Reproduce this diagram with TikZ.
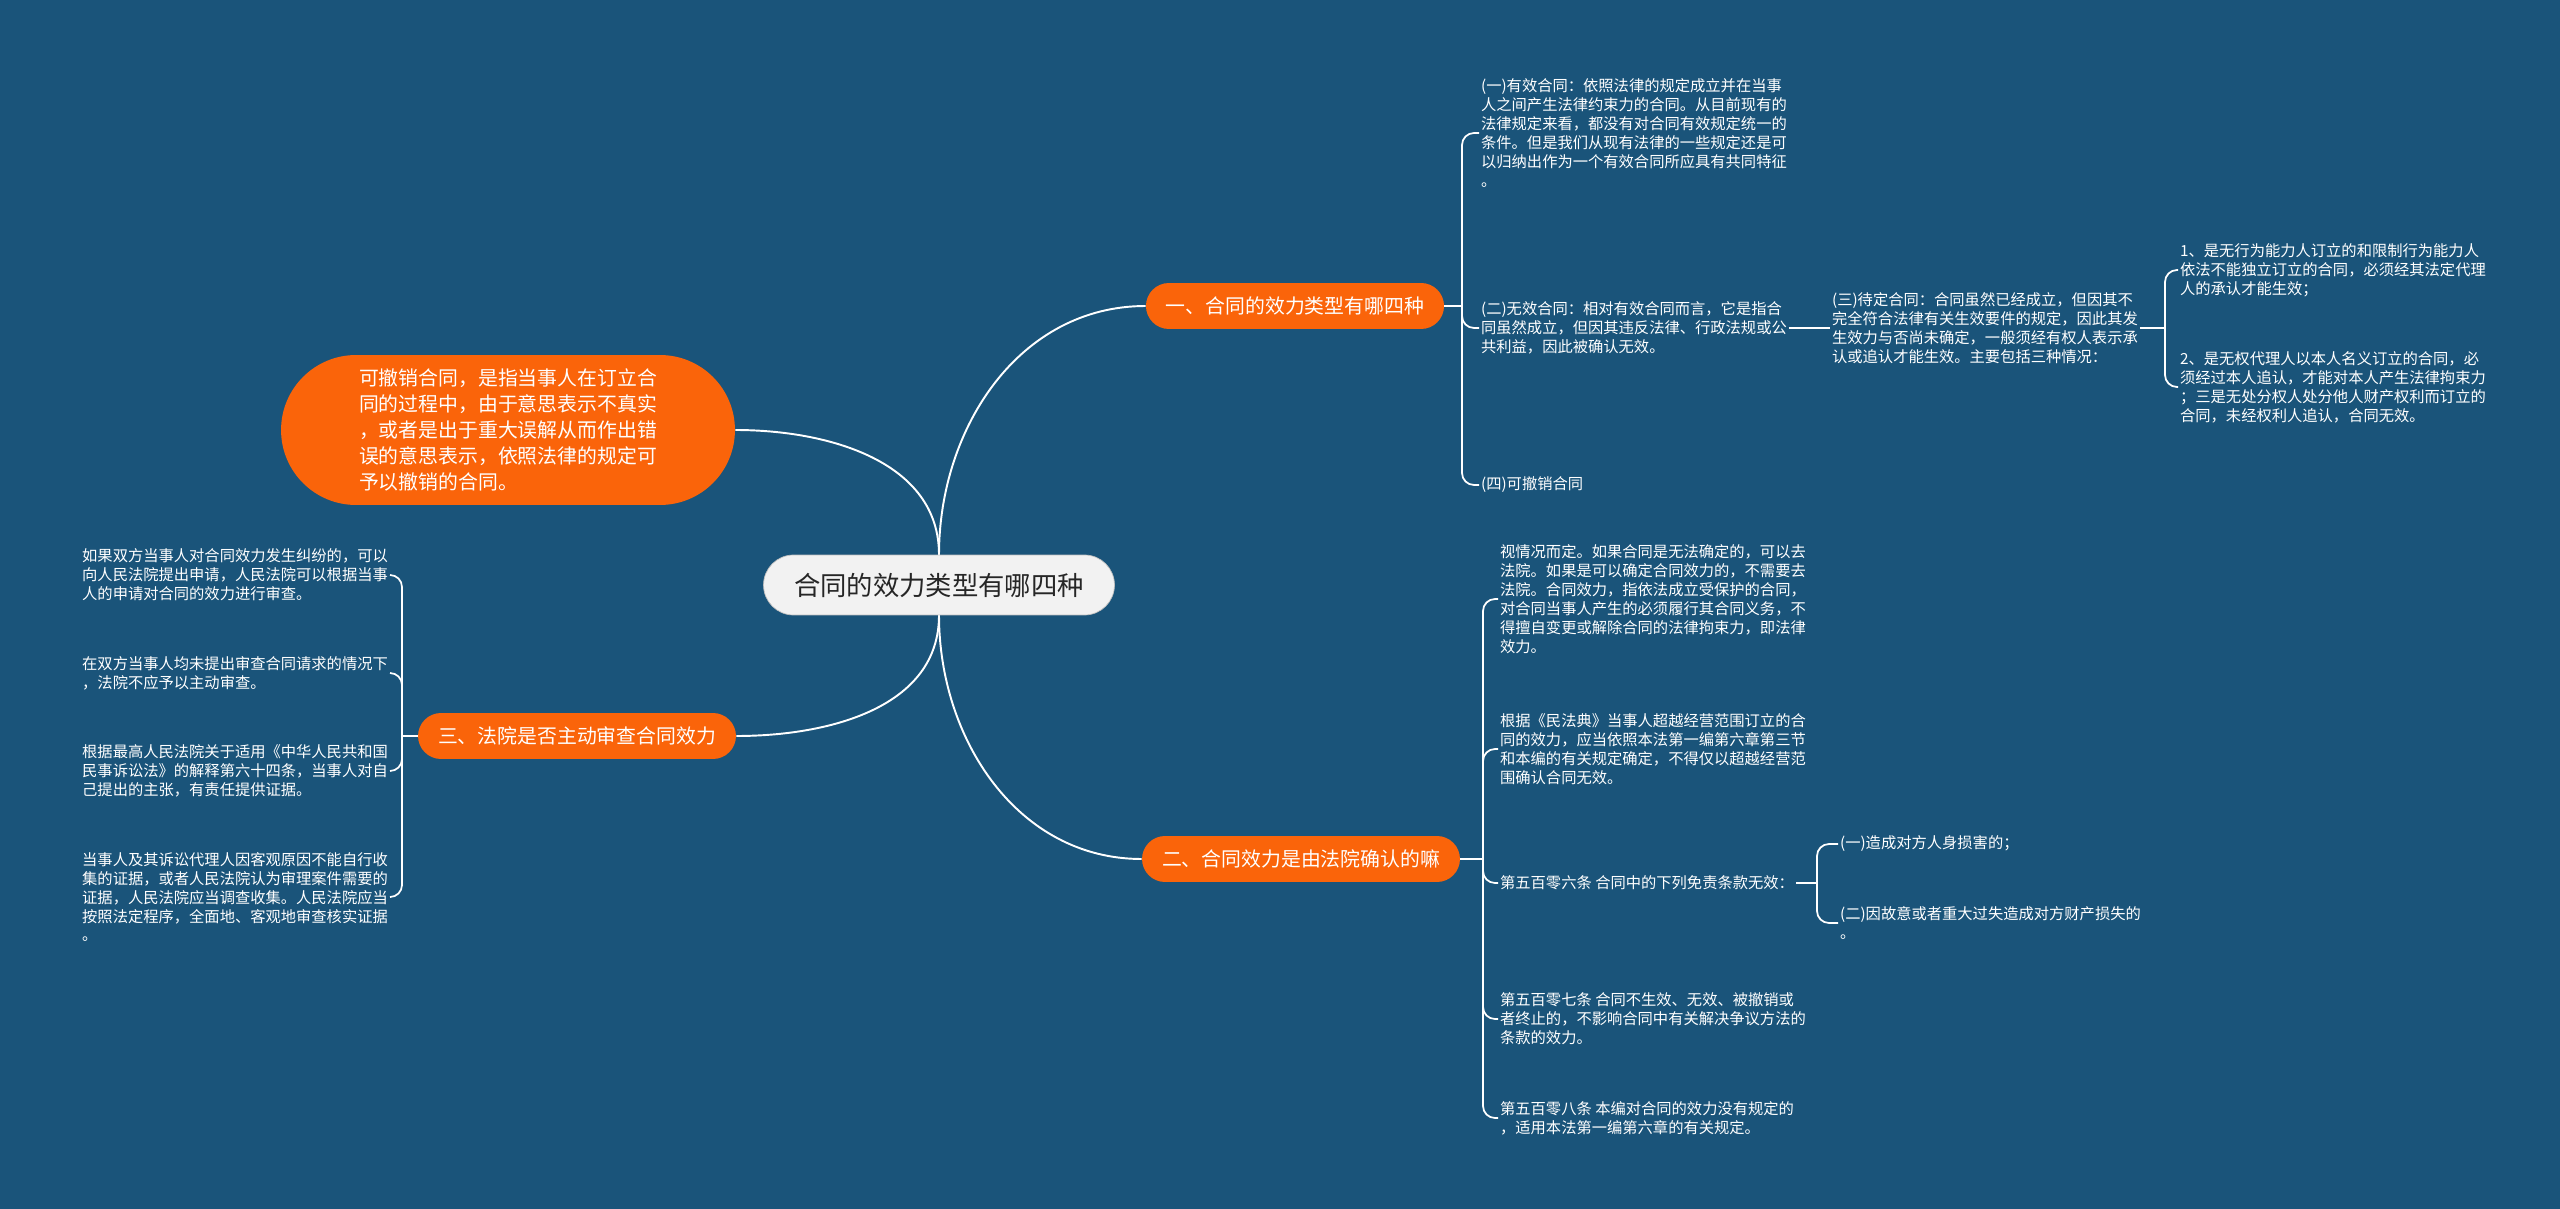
\documentclass[tikz,border=0pt]{standalone}
\usepackage{fontspec}
\setmainfont{Noto Sans CJK SC}

\definecolor{mapbg}{HTML}{1A547A}
\definecolor{mindorange}{HTML}{FA640A}
\definecolor{rootgray}{HTML}{F2F2F2}

\tikzset{
  root/.style={draw=gray!50, fill=rootgray, text=black!85, rounded corners=0.6cm,
    minimum width=7.02cm, minimum height=1.2cm, font=\fontsize{15}{18}\selectfont},
  topic/.style={fill=mindorange, text=white, rounded corners=0.46cm,
    minimum height=0.92cm, inner xsep=0.4cm, font=\fontsize{11.3}{13}\selectfont},
  note/.style={fill=mindorange, text=white, rounded corners=1.5cm, align=left,
    minimum width=9.08cm, minimum height=3cm, font=\fontsize{11.3}{14.8}\selectfont},
  leaf/.style={text=white, align=left, inner sep=1pt, anchor=west,
    font=\fontsize{8.7}{10.8}\selectfont},
  leftleaf/.style={leaf, anchor=east},
  link/.style={white, line width=1.1pt},
  brace/.style={white, line width=1pt, rounded corners=0.24cm}
}

\begin{document}
\begin{tikzpicture}[x=0.02cm, y=-0.02cm]
  % background
  \fill[mapbg] (0,0) rectangle (2560,1209);

  % centre and main topics
  \node[root] (root) at (939,585) {合同的效力类型有哪四种};
  \node[topic] (t1) at (1295,306) {一、合同的效力类型有哪四种};
  \node[topic] (t2) at (1301,859) {二、合同效力是由法院确认的嘛};
  \node[topic] (t3) at (577,736) {三、法院是否主动审查合同效力};
  \node[note] (note) at (508,430) {可撤销合同，是指当事人在订立合\\同的过程中，由于意思表示不真实\\，或者是出于重大误解从而作出错\\误的意思表示，依照法律的规定可\\予以撤销的合同。};

  \draw[link] (root.north) to[out=90,in=180] (t1.west);
  \draw[link] (root.south) to[out=-90,in=180] (t2.west);
  \draw[link] (root.south) to[out=-90,in=0] (t3.east);
  \draw[link] (note.east) to[out=0,in=90] (root.north);

  % topic one
  \node[leaf] (c11) at (1479,133) {(一)有效合同：依照法律的规定成立并在当事\\人之间产生法律约束力的合同。从目前现有的\\法律规定来看，都没有对合同有效规定统一的\\条件。但是我们从现有法律的一些规定还是可\\以归纳出作为一个有效合同所应具有共同特征\\。};
  \node[leaf] (c12) at (1479,328) {(二)无效合同：相对有效合同而言，它是指合\\同虽然成立，但因其违反法律、行政法规或公\\共利益，因此被确认无效。};
  \node[leaf] (c13) at (1830,328) {(三)待定合同：合同虽然已经成立，但因其不\\完全符合法律有关生效要件的规定，因此其发\\生效力与否尚未确定，一般须经有权人表示承\\认或追认才能生效。主要包括三种情况：};
  \node[leaf] (c131) at (2178,270) {1、是无行为能力人订立的和限制行为能力人\\依法不能独立订立的合同，必须经其法定代理\\人的承认才能生效；};
  \node[leaf] (c132) at (2178,387) {2、是无权代理人以本人名义订立的合同，必\\须经过本人追认，才能对本人产生法律拘束力\\；三是无处分权人处分他人财产权利而订立的\\合同，未经权利人追认，合同无效。};
  \node[leaf] (c14) at (1479,485) {(四)可撤销合同};

  \coordinate (j1) at (1462,306);
  \coordinate (j13) at (2165,328);
  \draw[link] (t1.east) -- (j1);
  \foreach \c in {c11,c12,c14}
    \draw[brace] (j1) |- (\c.west);
  \draw[link] (c12.east) -- (c13.west);
  \draw[link] (c13.east) -- (j13);
  \foreach \c in {c131,c132}
    \draw[brace] (j13) |- (\c.west);

  % topic two
  \node[leaf] (c21) at (1498,599) {视情况而定。如果合同是无法确定的，可以去\\法院。如果是可以确定合同效力的，不需要去\\法院。合同效力，指依法成立受保护的合同，\\对合同当事人产生的必须履行其合同义务，不\\得擅自变更或解除合同的法律拘束力，即法律\\效力。};
  \node[leaf] (c22) at (1498,749) {根据《民法典》当事人超越经营范围订立的合\\同的效力，应当依照本法第一编第六章第三节\\和本编的有关规定确定，不得仅以超越经营范\\围确认合同无效。};
  \node[leaf] (c23) at (1498,883) {第五百零六条 合同中的下列免责条款无效：};
  \node[leaf] (c231) at (1838,844) {(一)造成对方人身损害的；};
  \node[leaf] (c232) at (1838,923) {(二)因故意或者重大过失造成对方财产损失的\\。};
  \node[leaf] (c24) at (1498,1019) {第五百零七条 合同不生效、无效、被撤销或\\者终止的，不影响合同中有关解决争议方法的\\条款的效力。};
  \node[leaf] (c25) at (1498,1118) {第五百零八条 本编对合同的效力没有规定的\\，适用本法第一编第六章的有关规定。};

  \coordinate (j2) at (1483,859);
  \coordinate (j23) at (1817,883);
  \draw[link] (t2.east) -- (j2);
  \foreach \c in {c21,c22,c23,c24,c25}
    \draw[brace] (j2) |- (\c.west);
  \draw[link] (c23.east) -- (j23);
  \foreach \c in {c231,c232}
    \draw[brace] (j23) |- (\c.west);

  % topic three
  \node[leftleaf] (c31) at (390,575) {如果双方当事人对合同效力发生纠纷的，可以\\向人民法院提出申请，人民法院可以根据当事\\人的申请对合同的效力进行审查。};
  \node[leftleaf] (c32) at (390,673) {在双方当事人均未提出审查合同请求的情况下\\，法院不应予以主动审查。};
  \node[leftleaf] (c33) at (390,771) {根据最高人民法院关于适用《中华人民共和国\\民事诉讼法》的解释第六十四条，当事人对自\\己提出的主张，有责任提供证据。};
  \node[leftleaf] (c34) at (390,897) {当事人及其诉讼代理人因客观原因不能自行收\\集的证据，或者人民法院认为审理案件需要的\\证据，人民法院应当调查收集。人民法院应当\\按照法定程序，全面地、客观地审查核实证据\\。};

  \coordinate (j3) at (402,736);
  \draw[link] (t3.west) -- (j3);
  \foreach \c in {c31,c32,c33,c34}
    \draw[brace] (j3) |- (\c.east);
\end{tikzpicture}
\end{document}
